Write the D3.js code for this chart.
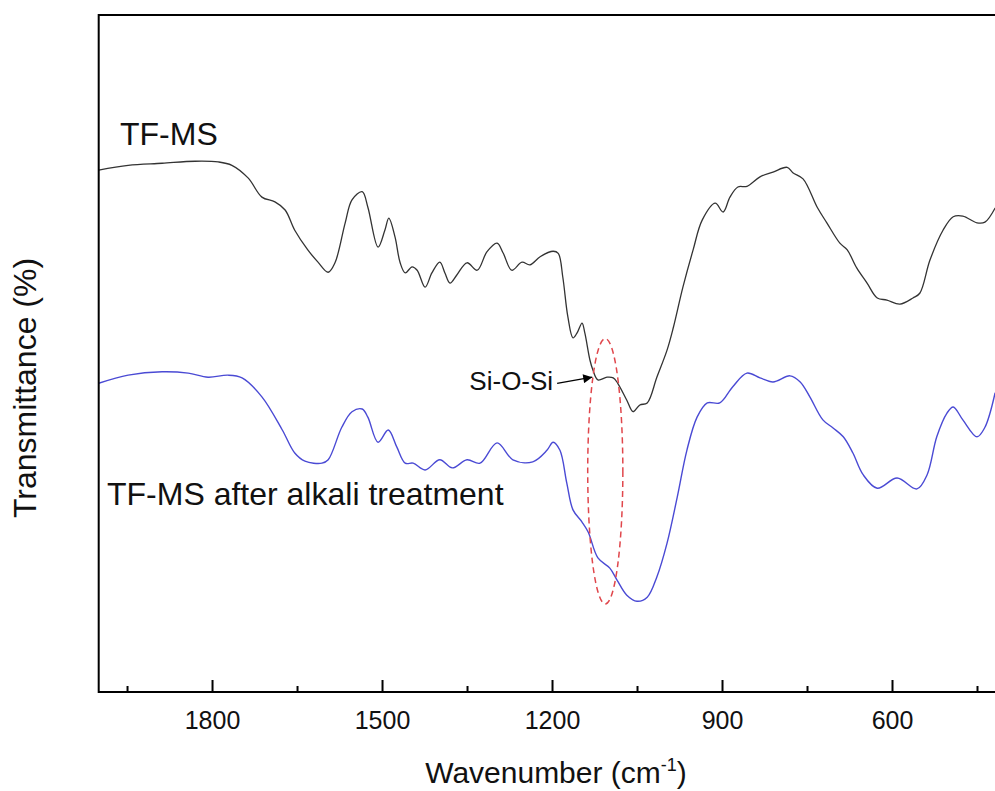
<!DOCTYPE html>
<html>
<head>
<meta charset="utf-8">
<script src="https://cdn.jsdelivr.net/npm/d3@7"></script>
<style>
  body { margin: 0; background: #fff; }
  svg { display: block; font-family: "Liberation Sans", Arial, sans-serif; }
</style>
</head>
<body>
<div id="chart"></div>
<script>
// FTIR spectra, wavenumber (cm-1) vs transmittance (arbitrary offset units)
const tfmsWave = [2000,1948,1888,1830,1789,1765,1736,1712,1689,1671,1654,1631,1613,1595,1583,1565,1553,1535,1525,1507,1495,1488,1477,1468,1459,1447,1438,1424,1412,1398,1389,1380,1368,1350,1332,1315,1297,1286,1271,1253,1239,1221,1198,1189,1181,1172,1163,1156,1147,1142,1133,1128,1119,1103,1092,1084,1068,1057,1045,1032,1015,997,986,969,951,935,912,898,886,872,856,833,810,785,775,757,732,715,692,679,662,644,626,609,586,563,551,533,510,492,475,450,436,418];
const tfmsT = [77.1,77.8,78.1,78.4,78.3,77.8,75.9,73.1,72.4,71.2,68.2,65.3,63.5,62.0,63.4,69.3,72.7,73.9,71.6,65.7,68.2,70.0,67.2,63.4,61.9,62.8,62.3,59.8,61.9,63.5,61.9,60.4,61.6,63.4,62.3,65.0,66.3,64.8,62.3,63.5,63.1,64.3,65.1,64.8,61.3,55.4,52.3,53.0,54.5,53.0,49.0,47.6,46.1,46.5,46.4,45.6,43.1,41.4,42.4,42.7,46.5,50.5,53.8,59.8,65.3,69.7,72.2,70.9,73.1,74.6,74.7,76.1,76.8,77.5,76.7,75.8,71.6,69.3,66.3,65.3,62.6,60.4,58.2,57.9,57.3,58.2,58.9,63.8,68.2,70.2,70.3,69.3,69.4,71.5];

const alkaliWave = [2000,1948,1888,1842,1807,1772,1747,1712,1676,1654,1636,1606,1595,1571,1553,1535,1525,1507,1489,1474,1459,1445,1424,1398,1376,1350,1327,1297,1269,1234,1209,1198,1186,1174,1163,1147,1136,1119,1098,1085,1068,1050,1032,1015,997,979,962,944,926,904,881,856,833,810,780,762,745,722,704,686,669,651,626,591,556,538,521,503,492,475,450,436,418];
const alkaliT = [45.6,46.8,47.3,47.1,46.5,46.8,46.4,43.6,38.7,35.3,34.1,33.8,34.3,39.1,41.4,41.8,40.6,36.9,38.7,36.2,33.8,33.8,32.8,34.3,33.1,34.3,33.8,36.8,34.3,34.0,35.7,36.9,35.7,30.9,26.9,25.1,23.6,19.8,18.3,16.5,14.3,13.4,14.0,17.0,22.0,28.8,35.7,40.6,42.7,42.7,45.1,47.1,46.4,45.8,46.7,45.8,43.6,40.2,39.0,37.7,35.3,32.1,30.1,31.6,30.0,32.1,37.7,41.2,42.1,40.2,37.7,39.1,44.2];

const majorTicks = [1800, 1500, 1200, 900, 600];
const minorTicks = [1950, 1650, 1350, 1050, 750, 450];

// Si-O-Si annotation (data units)
const ringCenter = [1106, 32.6], ringRadius = [31, 19.6];
const arrowFrom = [1191, 45.6], arrowTo = [1129, 46.5];
const siLabelAt = [1198, 44.6];

const W = 995, H = 791;
const margin = { top: 15, left: 98.7, bottom: 99 };
const plotBottom = H - margin.bottom;

const svg = d3.select("#chart").append("svg")
    .attr("width", W).attr("height", H);

const x = d3.scaleLinear().domain([2000, 400]).range([margin.left, 212 + 1400 * (680 / 1200)]);
const y = d3.scaleLinear().domain([0, 100]).range([plotBottom, margin.top]);

const line = d3.line()
    .x(d => x(d[0]))
    .y(d => y(d[1]))
    .curve(d3.curveCatmullRom.alpha(0.5));

// Spectra
svg.append("path")
   .datum(d3.zip(tfmsWave, tfmsT))
   .attr("fill", "none")
   .attr("stroke", "#333")
   .attr("stroke-width", 1.3)
   .attr("d", line);

svg.append("path")
   .datum(d3.zip(alkaliWave, alkaliT))
   .attr("fill", "none")
   .attr("stroke", "#4a4ad4")
   .attr("stroke-width", 1.4)
   .attr("d", line);

// Axes (ticks point inward)
svg.append("g")
   .attr("transform", `translate(0,${plotBottom})`)
   .call(d3.axisBottom(x).tickValues(minorTicks).tickSizeInner(-6).tickSizeOuter(0).tickFormat(""))
   .call(g => g.select(".domain").remove())
   .call(g => g.selectAll("line").attr("stroke", "#000").attr("stroke-width", 2));

const xAxis = svg.append("g")
   .attr("transform", `translate(0,${plotBottom})`)
   .call(d3.axisBottom(x).tickValues(majorTicks).tickFormat(d3.format("d"))
          .tickSizeInner(-12).tickSizeOuter(0).tickPadding(19));
xAxis.select(".domain").remove();
xAxis.selectAll("line").attr("stroke", "#000").attr("stroke-width", 2);
xAxis.selectAll("text")
   .style("font-size", "25px")
   .style("font-family", "'Liberation Sans', Arial, sans-serif")
   .attr("fill", "#111");

// Frame (right side cropped in the original)
svg.append("path")
   .attr("d", `M${W + 10},${margin.top}H${margin.left}V${plotBottom}H${W + 10}`)
   .attr("fill", "none")
   .attr("stroke", "#000")
   .attr("stroke-width", 2);

// Axis titles
const xt = svg.append("text")
   .attr("x", 556).attr("y", 783)
   .attr("text-anchor", "middle")
   .style("font-size", "30px")
   .attr("fill", "#111")
   .text("Wavenumber (cm");
xt.append("tspan").attr("dy", -12).style("font-size", "18px").text("-1");
xt.append("tspan").attr("dy", 12).text(")");

svg.append("text")
   .attr("transform", "rotate(-90)")
   .attr("x", -388).attr("y", 36)
   .attr("text-anchor", "middle")
   .style("font-size", "32px")
   .attr("fill", "#111")
   .text("Transmittance (%)");

// Series labels
svg.append("text")
   .attr("x", 120).attr("y", 145)
   .style("font-size", "32px")
   .attr("fill", "#111")
   .text("TF-MS");

svg.append("text")
   .attr("x", 107).attr("y", 505)
   .style("font-size", "32px")
   .attr("fill", "#111")
   .text("TF-MS after alkali treatment");

// Si-O-Si annotation
svg.append("ellipse")
   .attr("cx", x(ringCenter[0]))
   .attr("cy", y(ringCenter[1]))
   .attr("rx", Math.abs(x(ringCenter[0] + ringRadius[0]) - x(ringCenter[0])))
   .attr("ry", Math.abs(y(ringCenter[1] + ringRadius[1]) - y(ringCenter[1])))
   .attr("fill", "none")
   .attr("stroke", "#e0474c")
   .attr("stroke-width", 1.5)
   .attr("stroke-dasharray", "6,4");

svg.append("defs").append("marker")
   .attr("id", "arrow")
   .attr("viewBox", "0 0 10 10")
   .attr("refX", 10).attr("refY", 5)
   .attr("markerWidth", 14).attr("markerHeight", 9)
   .attr("markerUnits", "userSpaceOnUse")
   .attr("orient", "auto")
   .append("path")
   .attr("d", "M0,0L10,5L0,10Z")
   .attr("fill", "#000");

svg.append("line")
   .attr("x1", x(arrowFrom[0])).attr("y1", y(arrowFrom[1]))
   .attr("x2", x(arrowTo[0])).attr("y2", y(arrowTo[1]))
   .attr("stroke", "#000")
   .attr("stroke-width", 1.3)
   .attr("marker-end", "url(#arrow)");

svg.append("text")
   .attr("x", x(siLabelAt[0])).attr("y", y(siLabelAt[1]))
   .attr("text-anchor", "end")
   .style("font-size", "26px")
   .attr("fill", "#111")
   .text("Si-O-Si");
</script>
</body>
</html>
